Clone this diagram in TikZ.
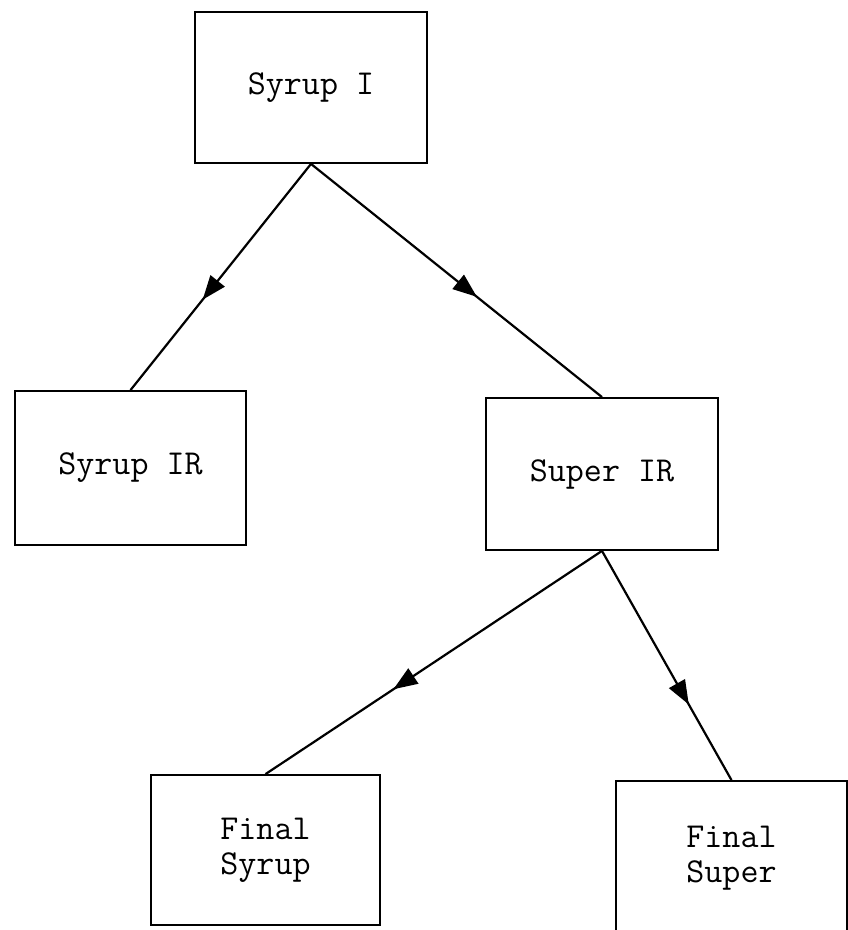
\documentclass[tikz,border=0pt]{standalone}
\usepackage{fontspec}
\usetikzlibrary{arrows.meta,decorations.markings}
\tikzset{box/.style={black,draw=black,line width=1.8pt,rectangle,inner sep=0pt,minimum width=231pt,minimum height=152pt,align=center,font=\ttfamily\fontsize{35}{35}\selectfont}}
\tikzset{flow/.style={black,line width=2.2pt,postaction={decorate},decoration={markings,mark=at position #1 with {\arrow{Triangle[length=24pt,width=18pt]}}}}}

\begin{document}
\begin{tikzpicture}[x=1pt,y=-1pt]
                \clip (0,0) rectangle (848,930);
                \node[box,minimum width=232pt,minimum height=151pt] (syrupI) at (311,87.5) {Syrup I};
                \node[box,minimum height=154pt] (syrupIR) at (130.5,468) {Syrup IR};
                \node[box,minimum width=232pt] (superIR) at (602,474) {Super IR};
                \node[box,minimum width=229pt,minimum height=150pt] (finalSyrup) at (265.5,850) {Final\\Syrup};
                \node[box,minimum height=154pt] (finalSuper) at (731.5,858) {Final\\Super};
                \draw[flow=0.6] (syrupI.south) -- (syrupIR.north);
                \draw[flow=0.57] (syrupI.south) -- (superIR.north);
                \draw[flow=0.62] (superIR.south) -- (finalSyrup.north);
                \draw[flow=0.67] (superIR.south) -- (finalSuper.north);
                \end{tikzpicture}
\end{document}
